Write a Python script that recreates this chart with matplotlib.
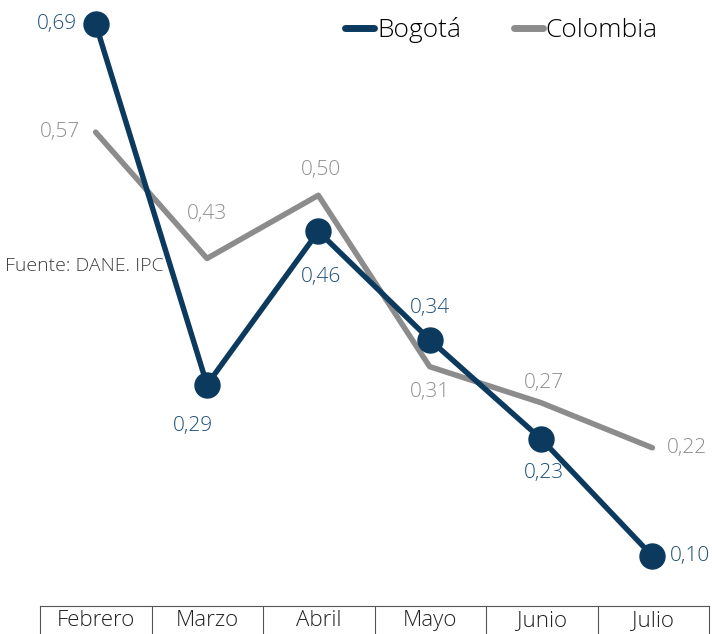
import numpy as np
import matplotlib
matplotlib.use('Agg')
import matplotlib.pyplot as plt
from matplotlib.lines import Line2D

# Data
meses = ['Febrero', 'Marzo', 'Abril', 'Mayo', 'Junio', 'Julio']
bogota = [0.69, 0.29, 0.46, 0.34, 0.23, 0.10]
colombia = [0.57, 0.43, 0.50, 0.31, 0.27, 0.22]

# label placement for each point (offset in points)
bog_offsets = [(-28, 0), (-10, -30), (2, -33), (0, 23), (2, -25), (27, 0)]
col_offsets = [(-26, 0), (0, 32), (2, 18), (0, -18), (2, 14), (25, 0)]

navy = '#0b3a5e'
navy_txt = '#1d4f74'
gray = '#8c8c8c'
gray_txt = '#8f8f8f'

plt.rcParams['font.family'] = ['Open Sans', 'DejaVu Sans']

fig = plt.figure(figsize=(7.12, 6.34), dpi=100)
ax = fig.add_axes([40 / 712, 0, 668 / 712, 1])
x = np.arange(len(meses))

ax.plot(x, colombia, color=gray, lw=4, solid_capstyle='round', zorder=3)
ax.plot(x, bogota, color=navy, lw=3.9, marker='o', markersize=18, zorder=4)

for xi, v, off in zip(x, bogota, bog_offsets):
    ax.annotate(f'{v:.2f}'.replace('.', ','), (xi, v), xytext=off, textcoords='offset points',
                ha='center', va='center', fontsize=15, fontweight='light', color=navy_txt, zorder=5)
for xi, v, off in zip(x, colombia, col_offsets):
    ax.annotate(f'{v:.2f}'.replace('.', ','), (xi, v), xytext=off, textcoords='offset points',
                ha='center', va='center', fontsize=15, fontweight='light', color=gray_txt, zorder=5)

ax.set_xlim(-0.5, 5.5)
ax.set_ylim(0.0135, 0.7166)
ax.axis('off')

# source note (sits under the lines)
fig.text(5 / 712, 1 - 266 / 634, 'Fuente: DANE. IPC', fontsize=14, fontweight='light',
         color='#404040', va='center', ha='left', zorder=1)

# month table at the bottom
tab = fig.add_axes([40 / 712, 0, 669 / 712, 28 / 634])
tab.set_xlim(-0.5, 5.5)
tab.set_ylim(0, 1)
tab.set_xticks([])
tab.set_yticks([])
tab.spines['bottom'].set_visible(False)
for s in ['top', 'left', 'right']:
    tab.spines[s].set_color('#555555')
    tab.spines[s].set_linewidth(0.8)
for b in np.arange(0.5, 5.5, 1):
    tab.axvline(b, color='#555555', lw=0.8)
for xi, m in zip(x, meses):
    tab.text(xi, 0.47, m, ha='center', va='center', fontsize=16, fontweight='light', color='#222222')
tab.patch.set_alpha(0)

handles = [Line2D([0], [0], color=navy, lw=5, solid_capstyle='round'),
           Line2D([0], [0], color=gray, lw=5, solid_capstyle='round')]
fig.legend(handles, ['Bogotá', 'Colombia'], loc='center', bbox_to_anchor=(0.7044, 1 - 30 / 634),
           ncol=2, frameon=False, handlelength=1.1, handletextpad=0.1,
           columnspacing=2.0, prop={'weight': 'light', 'size': 19})

fig.savefig('out.png', dpi=100)
